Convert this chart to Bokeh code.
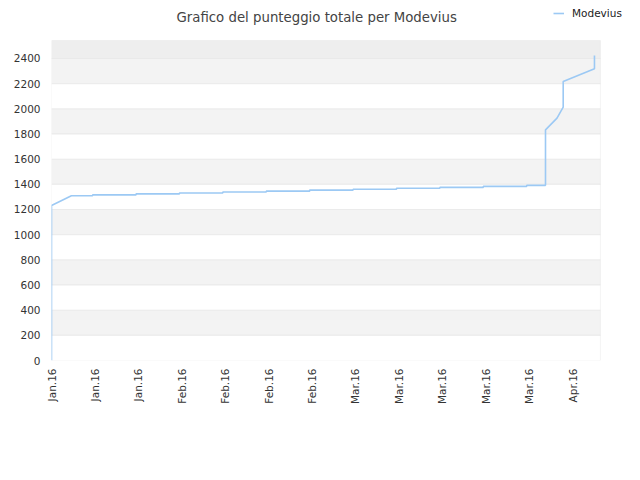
import math
import pandas as pd
from bokeh.plotting import figure
from bokeh.models import (Range1d, FixedTicker, DatetimeTickFormatter, BoxAnnotation,
                          Legend, LegendItem, Label)
from bokeh.embed import file_html
from bokeh.resources import INLINE

# ---- data ----
times = [
    "2016-01-14 00:00", "2016-01-14 00:00", "2016-01-17 05:00",
    "2016-01-20 15:00", "2016-01-20 15:00",
    "2016-01-27 15:00", "2016-01-27 15:00",
    "2016-02-03 15:00", "2016-02-03 15:00",
    "2016-02-10 15:00", "2016-02-10 15:00",
    "2016-02-17 15:00", "2016-02-17 15:00",
    "2016-02-24 15:00", "2016-02-24 15:00",
    "2016-03-02 15:00", "2016-03-02 15:00",
    "2016-03-09 15:00", "2016-03-09 15:00",
    "2016-03-16 15:00", "2016-03-16 15:00",
    "2016-03-23 15:00", "2016-03-23 15:00",
    "2016-03-30 15:00", "2016-03-30 15:00",
    "2016-04-02 15:30", "2016-04-02 15:30",
    "2016-04-04 12:00", "2016-04-05 12:00", "2016-04-05 12:00",
    "2016-04-10 13:00", "2016-04-10 13:00",
]
scores = [
    0, 1232, 1309,
    1309, 1316,
    1316, 1324,
    1324, 1331,
    1331, 1339,
    1339, 1346,
    1346, 1354,
    1354, 1361,
    1361, 1369,
    1369, 1376,
    1376, 1384,
    1384, 1392,
    1392, 1833,
    1926, 2013, 2217,
    2318, 2424,
]
tick_dates = ["2016-01-14", "2016-01-21", "2016-01-28", "2016-02-04", "2016-02-11",
              "2016-02-18", "2016-02-25", "2016-03-03", "2016-03-10", "2016-03-17",
              "2016-03-24", "2016-03-31", "2016-04-07"]
y_ticks = [0, 200, 400, 600, 800, 1000, 1200, 1400, 1600, 1800, 2000, 2200, 2400]
title_text = "Grafico del punteggio totale per Modevius"
series_name = "Modevius"

x = pd.to_datetime(times)
ticks_ms = [pd.Timestamp(d).value / 1e6 for d in tick_dates]

# plotting area (data extent shown with border) and the wider frame around it,
# which also holds the title and the legend so that they are not clipped
DAY = 86400000
PX_PER_DAY = 6.2024
PX_PER_UNIT = 320 / 2543
x_start = pd.Timestamp("2016-01-14").value / 1e6
x_area_end = x_start + 88.5 * DAY
y_area_top = 2543
FRAME_W, FRAME_H = 581, 360
x_frame_end = x_start + FRAME_W / PX_PER_DAY * DAY
y_frame_top = FRAME_H / PX_PER_UNIT

FONT = "DejaVu Sans"
TXT = "#333333"
GRID = "#dddddd"

p = figure(width=632, height=472, x_axis_type="datetime",
           x_range=Range1d(x_start, x_frame_end), y_range=Range1d(0, y_frame_top),
           output_backend="svg", toolbar_location=None,
           min_border_left=51, min_border_right=0, min_border_top=0, min_border_bottom=112)
p.title.visible = False
p.background_fill_color = "white"
p.border_fill_color = "white"
p.outline_line_color = None
p.xgrid.visible = False
p.ygrid.visible = False

# top region above the last grid line
p.add_layout(BoxAnnotation(left=x_start, right=x_area_end, bottom=y_ticks[-1], top=y_area_top,
                           fill_color="#eeeeee", fill_alpha=1, line_color=None, level="underlay"))
# alternating bands
for i in range(1, len(y_ticks) - 1, 2):
    p.add_layout(BoxAnnotation(left=x_start, right=x_area_end, bottom=y_ticks[i],
                               top=y_ticks[i + 1], fill_color="#f3f3f3", fill_alpha=1,
                               line_color=None, level="underlay"))
# grid lines
for t in y_ticks[1:]:
    p.add_layout(BoxAnnotation(left=x_start, right=x_area_end, bottom=t, top=t,
                               fill_alpha=0, line_color=GRID, line_width=1, level="underlay"))
# area border
p.add_layout(BoxAnnotation(left=x_start, right=x_area_end, bottom=0, top=y_area_top,
                           fill_alpha=0, line_color=GRID, line_width=1, level="underlay"))

r = p.line(x, scores, line_color="#9cc9f4", line_width=1.6)

# axes
p.xaxis.ticker = FixedTicker(ticks=ticks_ms)
fmt = "%b.%y"
p.xaxis.formatter = DatetimeTickFormatter(
    microseconds=fmt, milliseconds=fmt, seconds=fmt, minsec=fmt, minutes=fmt,
    hourmin=fmt, hours=fmt, days=fmt, months=fmt, years=fmt)
p.xaxis.major_label_orientation = math.pi / 2
p.yaxis.ticker = FixedTicker(ticks=y_ticks)
for ax in (p.xaxis[0], p.yaxis[0]):
    ax.axis_line_color = None
    ax.major_tick_line_color = None
    ax.minor_tick_line_color = None
    ax.major_tick_out = 0
    ax.major_tick_in = 0
    ax.major_label_text_font = FONT
    ax.major_label_text_font_size = "10.5px"
    ax.major_label_text_color = TXT
p.yaxis.major_label_standoff = 11
p.xaxis.major_label_standoff = 8

# title
p.add_layout(Label(x=125, y=343.3, x_units="screen", y_units="screen", text=title_text,
                   text_align="left", text_baseline="alphabetic", text_font=FONT,
                   text_font_size="13.3px", text_color="#444444"))

# legend
legend = Legend(items=[LegendItem(label=series_name, renderers=[r])],
                location=(502, 341.5), orientation="horizontal",
                padding=0, margin=0, spacing=0, border_line_color=None,
                background_fill_alpha=0, glyph_width=11, glyph_height=12,
                label_height=12, label_standoff=8,
                label_text_font=FONT, label_text_font_size="10.5px",
                label_text_color="#222222")
p.add_layout(legend)

open("out.html", "w").write(file_html(p, INLINE))
